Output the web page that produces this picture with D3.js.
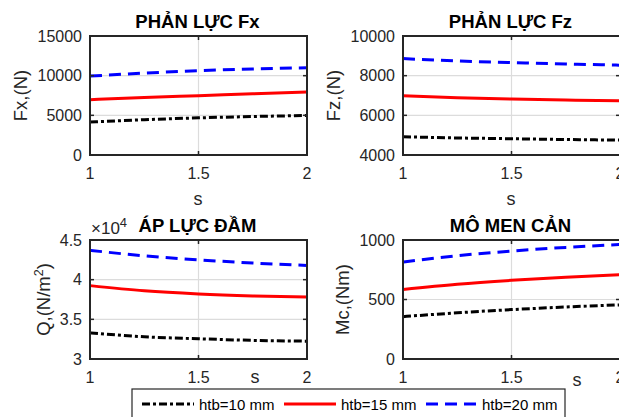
<!DOCTYPE html>
<html>
<head>
<meta charset="utf-8">
<script src="https://cdn.jsdelivr.net/npm/d3@7"></script>
<style>
  html, body { margin: 0; padding: 0; background: #fff; }
  svg { display: block; font-family: "Liberation Sans", Arial, Helvetica, sans-serif; }
</style>
</head>
<body>
<svg id="chart" width="619" height="417"></svg>
<script>
// ---- data ----
const sValues = [1, 1.25, 1.5, 1.75, 2];
const seriesNames = ["htb=10 mm", "htb=15 mm", "htb=20 mm"];

const fx10 = [4150, 4450, 4680, 4850, 4980];
const fx15 = [6970, 7250, 7480, 7720, 7940];
const fx20 = [9950, 10320, 10630, 10850, 11000];

const fz10 = [4920, 4860, 4820, 4780, 4750];
const fz15 = [6990, 6890, 6820, 6770, 6730];
const fz20 = [8860, 8740, 8660, 8590, 8530];

const q10 = [33300, 32800, 32550, 32350, 32250];
const q15 = [39250, 38600, 38200, 37950, 37800];
const q20 = [43700, 43000, 42500, 42100, 41800];

const mc10 = [356, 388, 415, 437, 455];
const mc15 = [585, 628, 661, 688, 709];
const mc20 = [815, 868, 907, 938, 962];

const xTicks = [1, 1.5, 2];
const fxTicks = [0, 5000, 10000, 15000];
const fzTicks = [4000, 6000, 8000, 10000];
const qTicks = [30000, 35000, 40000, 45000];
const mcTicks = [0, 500, 1000];

const titles = ["PHẢN LỰC Fx", "PHẢN LỰC Fz", "ÁP LỰC ĐẦM", "MÔ MEN CẢN"];

// ---- styles ----
const colors = ["#000000", "#ff0000", "#0000ff"];
const dashes = ["8,3,3,3", null, "12,7"];
const axisColor = "#262626";

const svg = d3.select("#chart");
svg.append("rect").attr("width", 619).attr("height", 417).attr("fill", "#fff");

const panels = [
  {x0: 90, x1: 307, y0: 36, y1: 155, domain: [0, 15000], ticks: fxTicks, fmt: d => String(d),
   data: [fx10, fx15, fx20], title: titles[0], ylabel: "Fx,(N)", ylx: 27, xl: {x: 198, y: 205}},
  {x0: 403, x1: 620, y0: 36, y1: 155, domain: [4000, 10000], ticks: fzTicks, fmt: d => String(d),
   data: [fz10, fz15, fz20], title: titles[1], ylabel: "Fz,(N)", ylx: 340, xl: {x: 511, y: 205}},
  {x0: 90, x1: 307, y0: 240, y1: 359, domain: [30000, 45000], ticks: qTicks, fmt: d => d3.format("")(d / 1e4),
   data: [q10, q15, q20], title: titles[2], ylabel: "Q", ylx: 50, xl: {x: 255, y: 383}, exp: true},
  {x0: 403, x1: 620, y0: 240, y1: 359, domain: [0, 1000], ticks: mcTicks, fmt: d => String(d),
   data: [mc10, mc15, mc20], title: titles[3], ylabel: "Mc,(Nm)", ylx: 349, xl: {x: 577, y: 386}}
];

panels.forEach(p => {
  const x = d3.scaleLinear().domain([1, 2]).range([p.x0, p.x1]);
  const y = d3.scaleLinear().domain(p.domain).range([p.y1, p.y0]);
  const g = svg.append("g");

  // grid
  g.selectAll(".gy").data(p.ticks).join("line")
    .attr("x1", p.x0).attr("x2", p.x1)
    .attr("y1", d => y(d)).attr("y2", d => y(d))
    .attr("stroke", "#dcdcdc").attr("stroke-width", 1.2);
  g.selectAll(".gx").data(xTicks).join("line")
    .attr("x1", d => x(d)).attr("x2", d => x(d))
    .attr("y1", p.y0).attr("y2", p.y1)
    .attr("stroke", "#dcdcdc").attr("stroke-width", 1.2);

  // lines
  const line = d3.line().x((d, i) => x(sValues[i])).y(d => y(d)).curve(d3.curveMonotoneX);
  p.data.forEach((arr, k) => {
    g.append("path").datum(arr)
      .attr("d", line)
      .attr("fill", "none")
      .attr("stroke", colors[k])
      .attr("stroke-width", 3)
      .attr("stroke-dasharray", dashes[k]);
  });

  // box
  g.append("rect").attr("x", p.x0).attr("y", p.y0)
    .attr("width", p.x1 - p.x0).attr("height", p.y1 - p.y0)
    .attr("fill", "none").attr("stroke", axisColor).attr("stroke-width", 2);

  // inward ticks
  g.selectAll(".tb").data(xTicks).join("line")
    .attr("x1", d => x(d)).attr("x2", d => x(d))
    .attr("y1", p.y1).attr("y2", p.y1 - 4)
    .attr("stroke", axisColor).attr("stroke-width", 1.5);
  g.selectAll(".tt").data(xTicks).join("line")
    .attr("x1", d => x(d)).attr("x2", d => x(d))
    .attr("y1", p.y0).attr("y2", p.y0 + 4)
    .attr("stroke", axisColor).attr("stroke-width", 1.5);
  g.selectAll(".tl").data(p.ticks).join("line")
    .attr("x1", p.x0).attr("x2", p.x0 + 4)
    .attr("y1", d => y(d)).attr("y2", d => y(d))
    .attr("stroke", axisColor).attr("stroke-width", 1.5);
  g.selectAll(".tr").data(p.ticks).join("line")
    .attr("x1", p.x1).attr("x2", p.x1 - 4)
    .attr("y1", d => y(d)).attr("y2", d => y(d))
    .attr("stroke", axisColor).attr("stroke-width", 1.5);

  // tick labels
  g.selectAll(".xl").data(xTicks).join("text")
    .attr("x", d => x(d)).attr("y", p.y1 + 24)
    .attr("text-anchor", "middle").attr("font-size", 16).attr("fill", axisColor)
    .text(d => String(d));
  g.selectAll(".yl").data(p.ticks).join("text")
    .attr("x", p.x0 - 8).attr("y", d => y(d) + 5.5)
    .attr("text-anchor", "end").attr("font-size", 16).attr("fill", axisColor)
    .text(p.fmt);

  // x label
  g.append("text").attr("x", p.xl.x).attr("y", p.xl.y)
    .attr("text-anchor", "middle").attr("font-size", 18).attr("fill", axisColor)
    .text("s");

  // y label
  const cy = (p.y0 + p.y1) / 2;
  const yl = g.append("text")
    .attr("transform", `translate(${p.ylx},${cy}) rotate(-90)`)
    .attr("text-anchor", "middle").attr("font-size", 18.5).attr("fill", axisColor);
  if (p.ylabel === "Q") {
    yl.append("tspan").text("Q,(N/m");
    yl.append("tspan").attr("font-size", 12.5).attr("dy", -7).text("2");
    yl.append("tspan").attr("dy", 7).text(")");
  } else {
    yl.text(p.ylabel);
  }

  // title
  g.append("text").attr("x", (p.x0 + p.x1) / 2 - 1).attr("y", p.y0 - 8)
    .attr("text-anchor", "middle").attr("font-size", 18.5).attr("font-weight", "bold")
    .attr("fill", "#000").text(p.title);

  // exponent
  if (p.exp) {
    const e = g.append("text").attr("x", p.x0 + 1).attr("y", p.y0 - 6)
      .attr("font-size", 17).attr("fill", axisColor);
    e.append("tspan").text("×10");
    e.append("tspan").attr("font-size", 13).attr("dy", -7).text("4");
  }
});

// ---- legend ----
const lg = svg.append("g");
lg.append("rect").attr("x", 132).attr("y", 389).attr("width", 433).attr("height", 40)
  .attr("fill", "#fff").attr("stroke", axisColor).attr("stroke-width", 1.2);
const legendItems = [
  {lx0: 142, lx1: 194, tx: 199},
  {lx0: 284, lx1: 336, tx: 341},
  {lx0: 426, lx1: 477, tx: 482}
];
legendItems.forEach((it, k) => {
  lg.append("line").attr("x1", it.lx0).attr("x2", it.lx1).attr("y1", 404).attr("y2", 404)
    .attr("stroke", colors[k]).attr("stroke-width", 3).attr("stroke-dasharray", dashes[k]);
  lg.append("text").attr("x", it.tx).attr("y", 409.5).attr("font-size", 15)
    .attr("fill", "#000").text(seriesNames[k]);
});
</script>
</body>
</html>
